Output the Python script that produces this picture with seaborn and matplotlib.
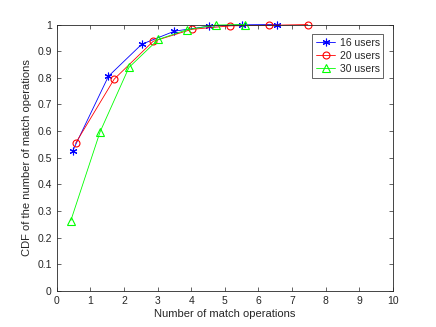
import matplotlib
matplotlib.use("Agg")
import matplotlib.pyplot as plt
import seaborn as sns
import pandas as pd

x16 = [0.48, 1.54, 2.53, 3.5, 4.54, 5.52, 6.55]
y16 = [0.527, 0.806, 0.926, 0.975, 0.994, 0.999, 1.0]
x20 = [0.56, 1.71, 2.87, 4.02, 5.17, 6.32, 7.47]
y20 = [0.554, 0.795, 0.937, 0.982, 0.995, 0.997, 1.0]
x30 = [0.42, 1.29, 2.15, 3.02, 3.89, 4.74, 5.59]
y30 = [0.264, 0.597, 0.839, 0.944, 0.981, 0.998, 1.0]
labels = ["16 users", "20 users", "30 users"]
xticks = list(range(0, 11))
yticks = [0, 0.1, 0.2, 0.3, 0.4, 0.5, 0.6, 0.7, 0.8, 0.9, 1]

sns.set_style("white")
plt.rcParams['font.family'] = ['Liberation Sans', 'DejaVu Sans']

fig = plt.figure(figsize=(4.36, 3.27), dpi=100)
ax = fig.add_axes([0.13, 0.11, 0.771, 0.815])

series = [(x16, y16, "#0000ff", (6, 2, 0), 5.5),
          (x20, y20, "#ff0000", "o", 5),
          (x30, y30, "#00ff00", "^", 5.5)]
for (xs, ys, c, m, ms), lab in zip(series, labels):
    df = pd.DataFrame({"x": xs, "y": ys})
    sns.lineplot(data=df, x="x", y="y", ax=ax, color=c, marker=m, label=lab,
                 linewidth=0.6, markersize=ms, markerfacecolor="none",
                 markeredgecolor=c, markeredgewidth=0.8, sort=False, clip_on=False)

ax.set_xlim(0, 10)
ax.set_ylim(0, 1)
ax.set_xticks(xticks)
ax.set_xticklabels([str(t) for t in xticks])
ax.set_yticks(yticks)
ax.set_yticklabels(["0"] + [f"{v:g}" for v in yticks[1:]])
ax.tick_params(direction="in", length=3, width=0.5, labelsize=7.5, colors="#262626",
               top=True, right=True, bottom=True, left=True)
for s in ax.spines.values():
    s.set_linewidth(0.6)
    s.set_color("#262626")
ax.set_xlabel("Number of match operations", fontsize=8, color="#262626", labelpad=2)
ax.set_ylabel("CDF of the number of match operations", fontsize=8, color="#262626", labelpad=4)

leg = ax.legend(loc="upper right", bbox_to_anchor=(0.972, 0.964), borderaxespad=0,
                fontsize=7.5, fancybox=False, edgecolor="#262626", framealpha=1,
                handlelength=1.9, borderpad=0.35, labelspacing=0.3, handletextpad=0.4)
leg.get_frame().set_linewidth(0.5)

fig.savefig("out.png", dpi=100)
